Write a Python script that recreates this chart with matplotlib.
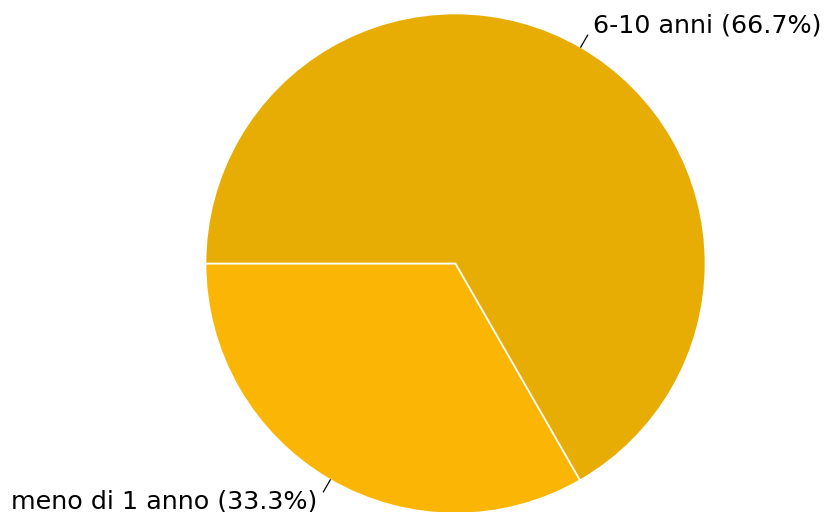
import numpy as np
import matplotlib
matplotlib.use("Agg")
import matplotlib.pyplot as plt

categories = ["meno di 1 anno", "6-10 anni"]
values = [33.3, 66.7]
colors = ["#FBB605", "#E8AD04"]

fig = plt.figure(figsize=(8.24, 5.12), dpi=100)
ax = fig.add_axes([0, 0, 1, 1])

wedges, _ = ax.pie(values, colors=colors, startangle=180, counterclock=True,
                   radius=1.0, center=(0, 0), frame=True,
                   wedgeprops=dict(edgecolor="white", linewidth=1.2))
ax.set_xlim(-1.822, 1.474)
ax.set_ylim(-0.994, 1.054)
ax.set_aspect("equal")
ax.axis("off")

for w, cat, val in zip(wedges, categories, values):
    mid = np.deg2rad((w.theta1 + w.theta2) / 2)
    cx, cy = np.cos(mid), np.sin(mid)
    p0 = (cx * 1.0, cy * 1.0)
    p1 = (cx * 1.055, cy * 1.055)
    ax.plot([p0[0], p1[0]], [p0[1], p1[1]], color="black", lw=0.9)
    ha = "left" if cx > 0 else "right"
    tx = cx * 1.1
    ty = cy * 1.1
    ax.text(tx, ty, f"{cat} ({val:.1f}%)", ha=ha, va="center",
            fontsize=18.3, family="DejaVu Sans", color="black")

fig.savefig("out.png", dpi=100)
